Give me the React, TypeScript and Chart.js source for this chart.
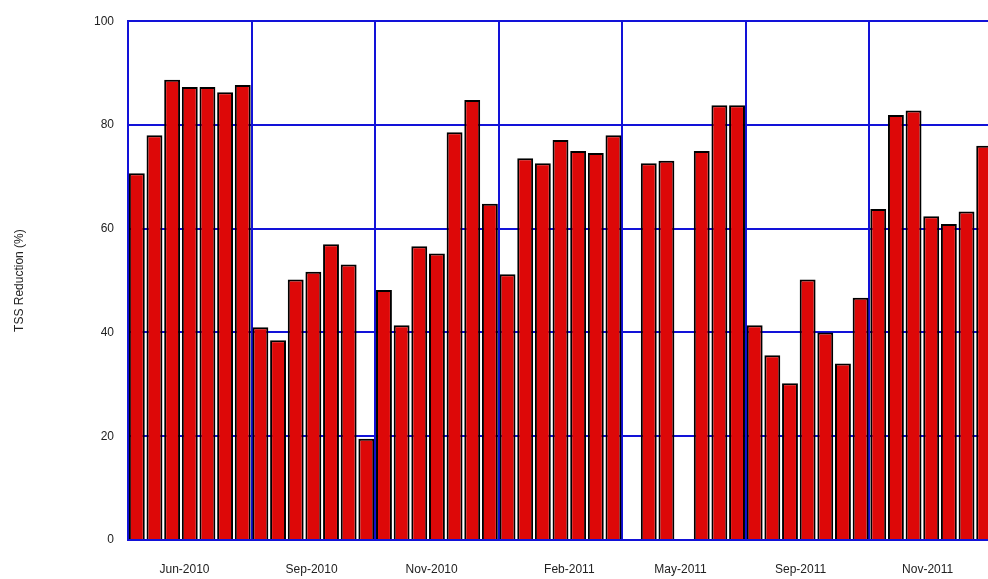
import React, { useEffect, useRef } from "react";
import { Chart, registerables } from "chart.js";
Chart.register(...registerables);

const values: (number | null)[] = [
  70.7, 78, 88.7, 87.3, 87.3, 86.3, 87.7, 41, 38.5, 50.2, 51.7, 57, 53.1, 19.5,
  48.2, 41.4, 56.6, 55.2, 78.6, 84.8, 64.8, 51.2, 73.6, 72.6, 77.1, 75, 74.6, 78,
  null, 72.6, 73.1, null, 75, 83.8, 83.8, 41.4, 35.6, 30.2, 50.2, 40, 34, 46.7,
  63.8, 81.9, 82.8, 62.4, 60.9, 63.3, 76,
];
const tickLabels = ["Jun-2010", "Sep-2010", "Nov-2010", "Feb-2011", "May-2011", "Sep-2011", "Nov-2011"];
const tickPositions = [3.2, 10.4, 17.2, 25.0, 31.3, 38.1, 45.3];
const yTicks = [0, 20, 40, 60, 80, 100];

const BLUE = "#1212d8";

export default function App() {
  const ref = useRef<HTMLCanvasElement>(null);
  useEffect(() => {
    document.body.style.margin = "0";
    document.body.style.overflow = "hidden";
    const ctx = ref.current!;
    const chart = new Chart(ctx, {
      type: "bar",
      data: {
        datasets: [
          {
            data: values.map((v, i) => ({ x: i + 0.5, y: v })) as any,
            backgroundColor: "#dd0808",
            borderColor: "#000",
            borderWidth: 2,
            borderSkipped: "bottom",
            barPercentage: 0.9,
            categoryPercentage: 1,
          },
        ],
      },
      options: {
        animation: false,
        responsive: false,
        maintainAspectRatio: false,
        layout: { padding: { top: 16, right: 0, left: 0, bottom: 0 } },
        plugins: { legend: { display: false }, tooltip: { enabled: false } },
        scales: {
          x: {
            type: "linear",
            offset: false,
            min: 0,
            max: values.length,
            position: "bottom",
            grid: { color: BLUE, lineWidth: 2, drawTicks: false, offset: false },
            border: { color: BLUE, width: 2 },
            ticks: { display: false, stepSize: 7 },
            afterFit: (s: any) => { s.height = 0; },
          },
          x2: {
            type: "linear",
            offset: false,
            min: 0,
            max: values.length,
            position: "bottom",
            grid: { display: false },
            border: { display: false },
            afterBuildTicks: (s: any) => {
              s.ticks = tickPositions.map((v) => ({ value: v }));
            },
            ticks: {
              autoSkip: false,
              maxRotation: 0,
              padding: 14,
              color: "#222",
              font: { family: "Liberation Sans", size: 12 },
              callback: (_v: any, i: number) => tickLabels[i],
            },
            afterFit: (s: any) => { s.height = 39; },
          },
          y: {
            min: 0,
            max: 100,
            afterBuildTicks: (s: any) => {
              s.ticks = yTicks.map((v) => ({ value: v }));
            },
            grid: { color: BLUE, lineWidth: 2, drawTicks: false },
            border: { color: BLUE, width: 2 },
            ticks: {
              padding: 14,
              color: "#222",
              font: { family: "Liberation Sans", size: 12 },
            },
            title: {
              display: true,
              text: "TSS Reduction (%)",
              color: "#222",
              font: { family: "Liberation Sans", size: 12 },
              padding: { top: 12, bottom: 0 },
            },
            afterFit: (s: any) => { s.width = 128; },
          },
          yr: {
            position: "right",
            min: 0,
            max: 100,
            grid: { display: false },
            border: { color: BLUE, width: 2 },
            ticks: { display: false },
            afterFit: (s: any) => { s.width = 0; },
          },
          xt: {
            type: "linear",
            offset: false,
            position: "top",
            min: 0,
            max: values.length,
            grid: { display: false },
            border: { color: BLUE, width: 2 },
            ticks: { display: false },
            afterFit: (s: any) => { s.height = 0; },
          },
        },
      },
    });
    return () => chart.destroy();
  }, []);
  return <canvas ref={ref} width={993} height={579} style={{ display: "block" }} />;
}
